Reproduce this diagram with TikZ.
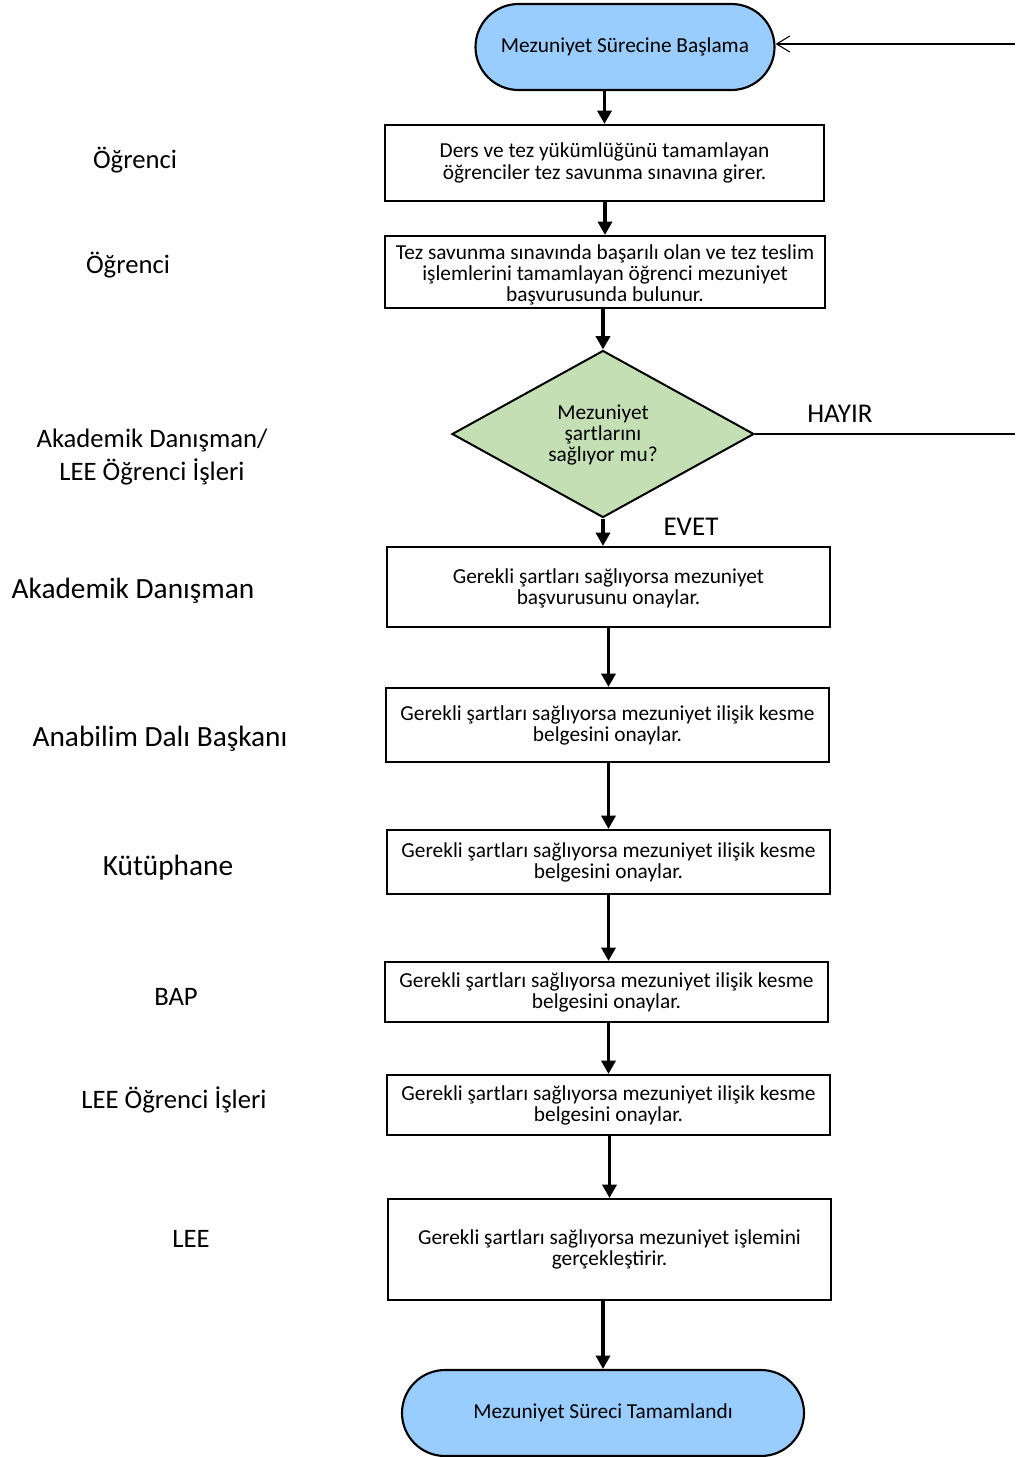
\documentclass[tikz,border=0pt]{standalone}
\usepackage{fontspec}
\setmainfont{Carlito}
\usetikzlibrary{shapes.geometric,arrows.meta}
\definecolor{termblue}{HTML}{99CCFF}
\definecolor{decgreen}{HTML}{C4DFB4}
\tikzset{
  term/.style args={#1x#2}{draw, line width=1.6pt, fill=termblue, rounded corners={#2*0.375pt}, minimum width={#1*0.75pt}, minimum height={#2*0.75pt}, inner sep=0pt, font=\fontsize{16}{15.8}\selectfont, align=center},
  stepbox/.style args={#1x#2}{draw, line width=1.6pt, fill=white, minimum width={#1*0.75pt}, minimum height={#2*0.75pt}, inner sep=0pt, font=\fontsize{16}{15.8}\selectfont, align=center},
  decision/.style={draw, line width=1.5pt, fill=decgreen, diamond, aspect=1.81, minimum width={302*0.75pt}, minimum height={167*0.75pt}, inner sep=0pt, font=\fontsize{16}{15.8}\selectfont, align=center},
  flow/.style={line width=2.5pt, -{Triangle[width=10.5pt,length=10pt]}},
  thinline/.style={line width=0.8pt},
  lab/.style={font=\fontsize{20}{24.75}\selectfont, align=center},
  biglab/.style={font=\fontsize{22}{26}\selectfont, align=center},
  side/.style={font=\fontsize{20.3}{24}\selectfont}
}
\begin{document}
\begin{tikzpicture}[x=0.75pt,y=-0.75pt]
\useasboundingbox (0,0) rectangle (1015,1457);
% main chain
\node[term={299x86}] (start) at (625,47) {\raisebox{-1.5pt}{Mezuniyet Sürecine Başlama}};
\node[stepbox={439x76}] (b1) at (604.5,163) {\raisebox{-1pt}{\shortstack{Ders ve tez yükümlüğünü tamamlayan\\öğrenciler tez savunma sınavına girer.}}};
\node[stepbox={440x72}] (b2) at (605,272) {};
\node[font=\fontsize{16}{15.8}\selectfont, align=center] (b2t) at (605,274.5) {Tez savunma sınavında başarılı olan ve tez teslim\\işlemlerini tamamlayan öğrenci mezuniyet\\başvurusunda bulunur.};
\node[decision] (d) at (603,434) {};
\node[font=\fontsize{16}{15.8}\selectfont, align=center] (dt) at (603,435) {Mezuniyet\\şartlarını\\sağlıyor mu?};
\node[stepbox={443x80}] (b3) at (608.5,587) {};
\node[font=\fontsize{16}{15.8}\selectfont, align=center] (b3t) at (608.5,588) {Gerekli şartları sağlıyorsa mezuniyet\\başvurusunu onaylar.};
\node[stepbox={443x74}] (b4) at (607.5,725) {Gerekli şartları sağlıyorsa mezuniyet ilişik kesme\\belgesini onaylar.};
\node[stepbox={443x64}] (b5) at (608.5,862) {Gerekli şartları sağlıyorsa mezuniyet ilişik kesme\\belgesini onaylar.};
\node[stepbox={443x60}] (b6) at (606.5,992) {Gerekli şartları sağlıyorsa mezuniyet ilişik kesme\\belgesini onaylar.};
\node[stepbox={443x60}] (b7) at (608.5,1105) {Gerekli şartları sağlıyorsa mezuniyet ilişik kesme\\belgesini onaylar.};
\node[stepbox={443x101}] (b8) at (609.5,1249.5) {Gerekli şartları sağlıyorsa mezuniyet işlemini\\gerçekleştirir.};
\node[term={402x86}] (end) at (603,1413) {\raisebox{-1.5pt}{Mezuniyet Süreci Tamamlandı}};
% arrows
\draw[flow] (start.south -| b1.north) -- (b1.north);
\draw[flow] (b1.south -| b2.north) -- (b2.north);
\draw[flow] (b2.south -| d.north) -- (d.north);
\draw[flow] (d.south) -- (d.south |- b3.north);
\draw[flow] (b3.south) -- (b3.south |- b4.north);
\draw[flow] (b4.south -| b5.north) -- (b5.north);
\draw[flow] (b5.south) -- (b5.south |- b6.north);
\draw[flow] (b6.south -| b7.north) -- (b7.north);
\draw[flow] (b7.south -| b8.north) -- (b8.north);
\draw[flow] (b8.south -| end.north) -- (end.north);
% return lines
\coordinate (r1) at (1015,44);
\coordinate (r2) at (1015,434);
\draw[thinline, -{Straight Barb[width=12pt,length=10pt]}] (r1) -- (start.east |- r1);
\draw[thinline] (d.east) -- (r2);
\node[side] (hayir) at (840,414) {HAYIR};
\node[side] (evet) at (691,527) {EVET};
% role labels
\node[lab] (l1) at (135,160) {Öğrenci};
\node[lab] (l2) at (128,265) {Öğrenci};
\node[lab] (l3) at (152,457) {Akademik Danışman/\\LEE Öğrenci İşleri};
\node[biglab] (l4) at (133,591) {Akademik Danışman};
\node[biglab] (l5) at (160,739) {Anabilim Dalı Başkanı};
\node[biglab] (l6) at (168,868) {Kütüphane};
\node[lab] (l7) at (176,997) {BAP};
\node[lab] (l8) at (174,1100) {LEE Öğrenci İşleri};
\node[lab] (l9) at (191,1239) {LEE};
\end{tikzpicture}
\end{document}
